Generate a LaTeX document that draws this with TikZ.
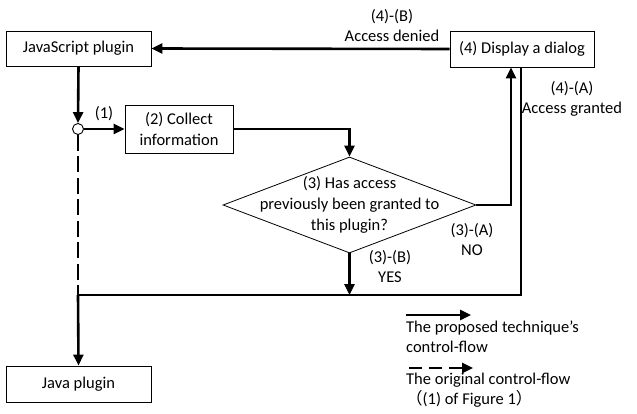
\documentclass[tikz,border=0pt]{standalone}
\usepackage{fontspec}
\setmainfont{Carlito}
\newfontfamily\cjk{Noto Sans CJK JP}
\usetikzlibrary{arrows.meta,shapes.geometric,calc}
\begin{document}
\begin{tikzpicture}[x=1pt,y=-1pt,
  font=\fontsize{16.5}{20}\selectfont,
  box/.style={draw, line width=0.9pt, inner sep=0pt, align=center},
  flowline/.style={line width=2.6pt},
  flow/.style={flowline, -{Triangle[length=11pt,width=10pt]}},
  lbl/.style={align=center, inner sep=0pt},
]
\useasboundingbox (0,0) rectangle (637,414);
% nodes
\node[box, minimum width=145pt, minimum height=35pt] (js) at (78.5,48.5) {JavaScript plugin};
\node[box, minimum width=145pt, minimum height=36pt] (java) at (78.5,384) {Java plugin};
\node[box, minimum width=108pt, minimum height=48pt, font=\fontsize{16.5}{21}\selectfont] (coll) at (179,129) {(2) Collect\\information};
\node[box, minimum width=144pt, minimum height=36pt] (disp) at (522,49) {(4) Display a dialog};
\node[circle, draw, line width=0.9pt, fill=white, minimum size=11pt, inner sep=0pt] (circ) at (78,129) {};
\node[diamond, draw, line width=0.8pt, minimum width=253pt, minimum height=96pt, inner sep=0pt] (q) at (349.5,205) {};
\node[lbl, font=\fontsize{16.5}{21}\selectfont] (qt) at (q.center) {(3) Has access\\previously been granted to\\this plugin?};
\coordinate (j) at (78,295);
% connectors
\draw[flow] (disp.west) -- (js.east);
\draw[flow] (js.south) -- (circ.north);
\draw[flow] (circ.east) -- (coll.west);
\draw[flow] (coll.east) -| (q.north);
\draw[flow] (q.east) -| ([xshift=-11pt]disp.south);
\draw[flowline] ([xshift=-1pt]disp.south) |- (j);
\draw[flow] (q.south) -- (q.south |- j);
\draw[flowline, dash pattern=on 16pt off 5.5pt] (circ.south) -- (j);
\draw[flow] (j) -- (java.north);
% labels
\node[lbl] (l1) at (104,114) {(1)};
\node[lbl] (l4b) at (392,26) {(4)-(B)\\Access denied};
\node[lbl] (l4a) at (572,99) {(4)-(A)\\Access granted};
\node[lbl] (l3a) at (472,240) {(3)-(A)\\NO};
\node[lbl] (l3b) at (390,267) {(3)-(B)\\YES};
% legend
\coordinate (la1) at (406,315);
\coordinate (la2) at (471,315);
\draw[flow] (la1) -- (la2);
\node[lbl, align=left, anchor=west] (lt1) at (406,337) {The proposed technique's\\control-flow};
\coordinate (lb1) at (409,368);
\coordinate (lb2) at (473,368);
\draw[flow, dash pattern=on 13pt off 7pt] (lb1) -- (lb2);
\node[lbl, align=left, anchor=west] (lt2) at (406,390) {The original control-flow\\{\cjk （}(1) of Figure 1{\cjk ）}};
\end{tikzpicture}
\end{document}
